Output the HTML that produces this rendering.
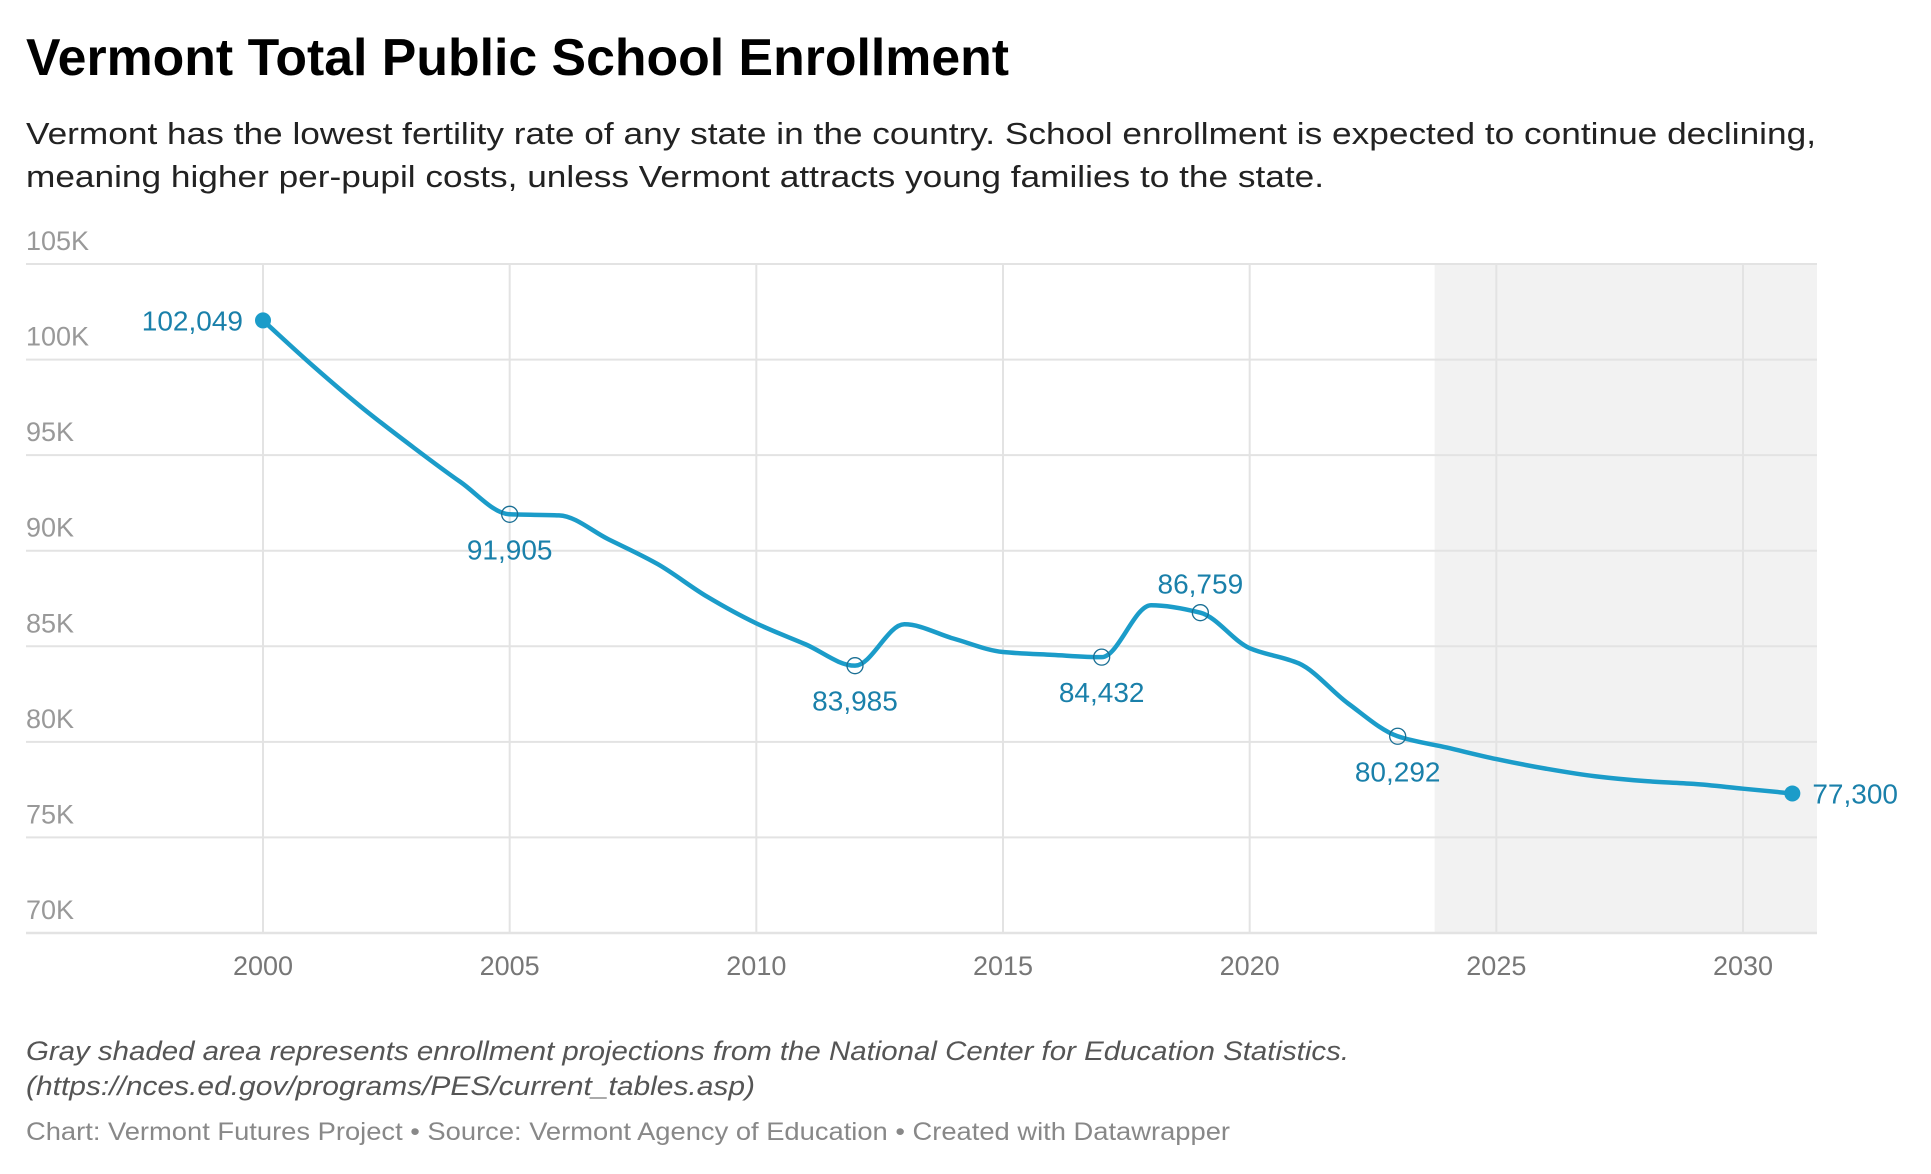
<!DOCTYPE html>
<html><head><meta charset="utf-8">
<style>
html,body{margin:0;padding:0;background:#fff;}
svg{display:block;font-family:"Liberation Sans",Arial,sans-serif;}
</style></head>
<body>
<svg id="chart" width="1931" height="1174" viewBox="0 0 1931 1174">
<text x="26" y="75" font-size="52" font-weight="bold" fill="#000" textLength="983" lengthAdjust="spacingAndGlyphs">Vermont Total Public School Enrollment</text>
<text x="26" y="144" font-size="31" fill="#222" textLength="1790" lengthAdjust="spacingAndGlyphs">Vermont has the lowest fertility rate of any state in the country. School enrollment is expected to continue declining,</text>
<text x="26" y="187" font-size="31" fill="#222" textLength="1298" lengthAdjust="spacingAndGlyphs">meaning higher per-pupil costs, unless Vermont attracts young families to the state.</text>
<g id="plot"></g>
<text x="26" y="1060" font-size="27" font-style="italic" fill="#555" textLength="1323" lengthAdjust="spacingAndGlyphs">Gray shaded area represents enrollment projections from the National Center for Education Statistics.</text>
<text x="26" y="1095" font-size="27" font-style="italic" fill="#555" textLength="729" lengthAdjust="spacingAndGlyphs">(https://nces.ed.gov/programs/PES/current_tables.asp)</text>
<text x="26" y="1140" font-size="25" fill="#888" textLength="1204" lengthAdjust="spacingAndGlyphs">Chart: Vermont Futures Project • Source: Vermont Agency of Education • Created with Datawrapper</text>
</svg>
<script>
const years = [2000,2001,2002,2003,2004,2005,2006,2007,2008,2009,2010,2011,2012,2013,2014,2015,2016,2017,2018,2019,2020,2021,2022,2023,2024,2025,2026,2027,2028,2029,2030,2031];
const enrollment = [102049,99700,97500,95500,93600,91905,91850,90600,89300,87600,86200,85100,83985,86150,85400,84700,84550,84432,87150,86759,84900,84100,82000,80292,79700,79100,78600,78200,77950,77800,77550,77300];
const yTicks = [70000,75000,80000,85000,90000,95000,100000,105000];
const yTickLabels = ["70K","75K","80K","85K","90K","95K","100K","105K"];
const xTicks = [2000,2005,2010,2015,2020,2025,2030];
const labeledYears = [2000,2005,2012,2017,2019,2023,2031];
const labelPositions = ["left","below","below","below","above","below","right"];
const projectionStart = 2023.75;

const NS = "http://www.w3.org/2000/svg";
const plot = document.getElementById("plot");
const L = 26, R = 1817;
const xS = y => 263 + (y - 2000) * (1743 - 263) / 30;
const yS = v => 933 - (v - 70000) * (933 - 264) / 35000;
function mk(tag, attrs){const e=document.createElementNS(NS,tag);for(const k in attrs)e.setAttribute(k,attrs[k]);plot.appendChild(e);return e;}

const shade = mk("rect",{x:xS(projectionStart),y:yS(105000),width:R-xS(projectionStart),height:yS(70000)-yS(105000),fill:"#f2f2f2"});



xTicks.forEach(t=>{
  const g = mk("line",{x1:xS(t),x2:xS(t),y1:yS(105000),y2:yS(70000),stroke:"#e3e3e3","stroke-width":2});
  
  
  const tx = mk("text",{x:xS(t),y:975,"font-size":27,fill:"#777","text-anchor":"middle"});
  tx.textContent = t;
  
  
});
yTicks.forEach((t,i)=>{
  const g = mk("line",{x1:L,x2:R,y1:yS(t),y2:yS(t),stroke:"#e3e3e3","stroke-width":t===70000?2.5:2});
  
  
  const tx = mk("text",{x:L,y:yS(t)-14,"font-size":27,fill:"#999"});
  tx.textContent = yTickLabels[i];
  
  
});

const px = years.map(xS), py = enrollment.map(yS);
const n = px.length, m = new Array(n);
const d = [];
for(let i=0;i<n-1;i++) d.push((py[i+1]-py[i])/(px[i+1]-px[i]));
m[0]=d[0]; m[n-1]=d[n-2];
for(let i=1;i<n-1;i++){ if(d[i-1]*d[i]<=0) m[i]=0; else { const h0=px[i]-px[i-1],h1=px[i+1]-px[i]; m[i]=3*(h0+h1)/((2*h1+h0)/d[i-1]+(h1+2*h0)/d[i]); } }
let path = "M"+px[0]+","+py[0];
for(let i=0;i<n-1;i++){ const h=(px[i+1]-px[i])/3; path += " C"+(px[i]+h)+","+(py[i]+m[i]*h)+" "+(px[i+1]-h)+","+(py[i+1]-m[i+1]*h)+" "+px[i+1]+","+py[i+1]; }
const line = mk("path",{d:path,fill:"none",stroke:"#1b9cc9","stroke-width":4.5,"stroke-linejoin":"round","stroke-linecap":"round"});



labeledYears.forEach((yr,k)=>{
  const i = years.indexOf(yr); const x = xS(yr), y = yS(enrollment[i]);
  const end = (k===0 || k===labeledYears.length-1);
  const c = mk("circle",end?{cx:x,cy:y,r:8,fill:"#1b9cc9"}:{cx:x,cy:y,r:8,fill:"none",stroke:"#1a6f94","stroke-width":1.3});
  
  
  const pos = labelPositions[k];
  let a = {x:x,y:y,"font-size":28,fill:"#1a80aa","text-anchor":"middle"};
  if(pos==="left"){a.x=x-20;a.y=y+10;a["text-anchor"]="end";}
  if(pos==="right"){a.x=x+20;a.y=y+10;a["text-anchor"]="start";}
  if(pos==="below"){a.y=y+45;}
  if(pos==="above"){a.y=y-19;}
  const t = mk("text",a);
  t.textContent = enrollment[i].toLocaleString("en-US");
  
  
});
</script>
</body></html>
